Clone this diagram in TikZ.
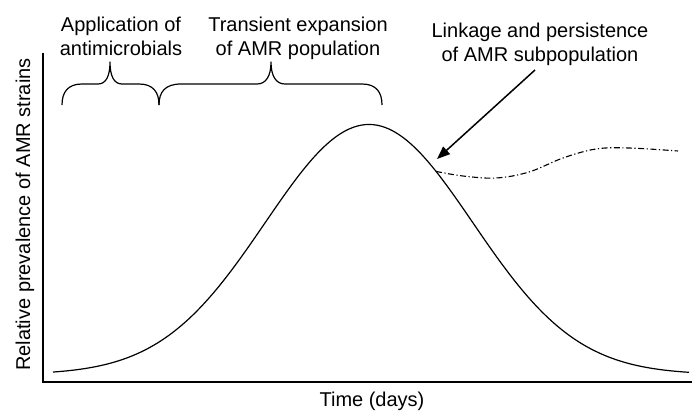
\documentclass[tikz,border=0pt]{standalone}
\usepackage{fontspec}
\setmainfont{Liberation Sans}
\usetikzlibrary{arrows.meta}
\begin{document}
\begin{tikzpicture}[x=1pt,y=-1pt,
  lbl/.style={font=\fontsize{20}{24}\selectfont, inner sep=0pt, align=center},
  axisline/.style={line width=1.4pt},
  curveline/.style={line width=1.2pt, line join=round},
  bracestyle/.style={line width=1.2pt, line join=round},
  persist/.style={line width=1.1pt, dash pattern=on 6pt off 2.5pt on 1.2pt off 2.5pt},
  pointer/.style={line width=1.5pt, -{Triangle[length=13pt,width=10pt]}}]
\useasboundingbox (0,0) rectangle (692,412);
% axes
\coordinate (ytop) at (43,53);
\coordinate (origin) at (43,382);
\coordinate (xend) at (692,382);
\draw[axisline] (ytop) -- (origin) -- (xend);
% main curve
\draw[curveline] plot[domain=53:689, samples=160, smooth]
  (\x, {374.5 - 250*exp(-(((\x-369)/147)^2))});
% persisting subpopulation
\coordinate (branch) at (436,171.4);
\draw[persist] plot[smooth, tension=0.6] coordinates {
  (branch) (463,176) (496,178) (529,172) (563,158) (596,149) (629,148) (678,151)};
% braces
\draw[bracestyle] (62,105) .. controls (62,92) and (68,84) .. (82,84) -- (98,84)
  .. controls (106,84) and (110,76) .. (110,62)
  .. controls (110,76) and (114,84) .. (122,84) -- (139,84)
  .. controls (153,84) and (159,92) .. (159,105);
\draw[bracestyle] (159,105) .. controls (159,92) and (165,84) .. (181,84) -- (257,84)
  .. controls (266,84) and (271,76) .. (271,62)
  .. controls (271,76) and (276,84) .. (285,84) -- (362,84)
  .. controls (376,84) and (382,92) .. (382,105);
% arrow
\coordinate (arrowfrom) at (535,70);
\coordinate (arrowto) at (437,159);
\draw[pointer] (arrowfrom) -- (arrowto);
% labels
\node[lbl, anchor=north] (app) at (121,16.5) {Application of\\antimicrobials};
\node[lbl, anchor=north] (trans) at (298,16.5) {Transient expansion\\of AMR population};
\node[lbl, anchor=north] (link) at (540,22.5) {Linkage and persistence\\of AMR subpopulation};
\node[lbl, anchor=base] (time) at (372,406) {Time (days)};
\node[lbl, anchor=base, rotate=90] (ylab) at (30,214.5) {Relative prevalence of AMR strains};
\end{tikzpicture}
\end{document}
